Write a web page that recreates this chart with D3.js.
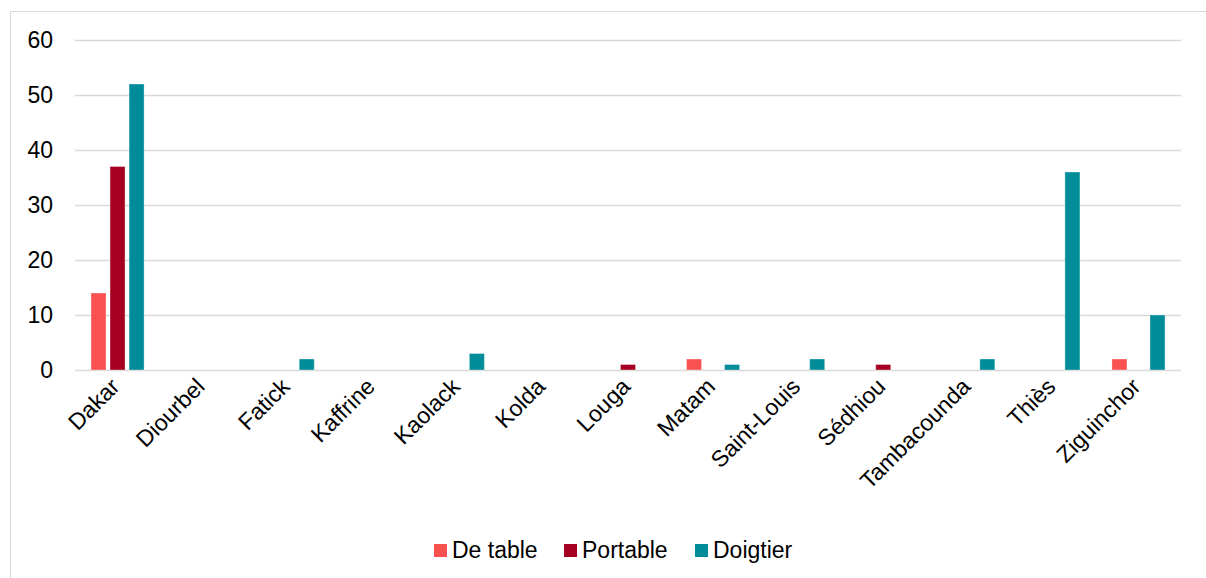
<!DOCTYPE html>
<html>
<head>
<meta charset="utf-8">
<script src="https://cdn.jsdelivr.net/npm/d3@7"></script>
<style>
  body { margin: 0; background: #fff; }
  text { font-family: "Liberation Sans", Arial, sans-serif; }
</style>
</head>
<body>
<div id="chart"></div>
<script>
// regions (x axis categories)
const regions = ["Dakar", "Diourbel", "Fatick", "Kaffrine", "Kaolack", "Kolda", "Louga",
  "Matam", "Saint-Louis", "Sédhiou", "Tambacounda", "Thiès", "Ziguinchor"];

// series values, one per region
const deTable  = [14, 0, 0, 0, 0, 0, 0, 2, 0, 0, 0, 0, 2];
const portable = [37, 0, 0, 0, 0, 0, 1, 0, 0, 1, 0, 0, 0];
const doigtier = [52, 0, 2, 0, 3, 0, 0, 1, 2, 0, 2, 36, 10];

const seriesNames = ["De table", "Portable", "Doigtier"];
const yTicks = [0, 10, 20, 30, 40, 50, 60];

const W = 1206, H = 578;
const margin = { left: 75, right: 25, top: 40, bottom: 208 };
const fontSize = 23;

const svg = d3.select("#chart").append("svg")
    .attr("width", W)
    .attr("height", H);

// outer chart frame (right/bottom edges run off the picture)
svg.append("rect")
    .attr("x", 10.5).attr("y", 11.5)
    .attr("width", W).attr("height", H)
    .attr("fill", "none")
    .attr("stroke", "#d9d9d9");

const color = d3.scaleOrdinal()
    .domain(seriesNames)
    .range(["#f8514f", "#a50021", "#008c99"]);

const x = d3.scaleBand()
    .domain(regions)
    .range([margin.left, W - margin.right]);

const y = d3.scaleLinear()
    .domain([0, 60])
    .range([H - margin.bottom, margin.top]);

// gridlines
svg.append("g")
    .selectAll("line")
    .data(yTicks)
    .join("line")
    .attr("x1", margin.left).attr("x2", W - margin.right)
    .attr("y1", d => y(d) + 0.5).attr("y2", d => y(d) + 0.5)
    .attr("stroke", "#d9d9d9")
    .attr("stroke-width", 1.5);

// y axis labels
svg.append("g")
    .selectAll("text")
    .data(yTicks)
    .join("text")
    .attr("x", 53)
    .attr("y", d => y(d))
    .attr("dy", "0.35em")
    .attr("text-anchor", "end")
    .attr("font-size", fontSize)
    .attr("fill", "#000")
    .text(d => d);

// bars
const rows = regions.map((r, i) => ({
  region: r,
  values: [deTable[i], portable[i], doigtier[i]]
}));

const x1 = d3.scaleBand()
    .domain(seriesNames)
    .range([0, x.bandwidth()])
    .paddingInner(0.21)
    .paddingOuter(0.84);

const groups = svg.append("g")
    .selectAll("g")
    .data(rows)
    .join("g")
    .attr("transform", d => "translate(" + x(d.region) + ",0)");

groups.selectAll("rect")
    .data(d => d.values.map((v, k) => ({ key: seriesNames[k], value: v })).filter(d => d.value > 0))
    .join("rect")
    .attr("x", d => x1(d.key))
    .attr("width", x1.bandwidth())
    .attr("y", d => y(d.value))
    .attr("height", d => y(0) - y(d.value))
    .attr("fill", d => color(d.key))
    .attr("stroke", "rgba(255,255,255,0.35)")
    .attr("stroke-width", 1);

// x axis labels, rotated
svg.append("g")
    .selectAll("text")
    .data(regions)
    .join("text")
    .attr("transform", d => "translate(" + (x(d) + x.bandwidth() / 2 + 3.5) + "," + (y(0) + 18) + ") rotate(-45)")
    .attr("text-anchor", "end")
    .attr("font-size", fontSize)
    .attr("fill", "#000")
    .text(d => d);

// legend
const legendX = [434, 564, 695];
const legend = svg.append("g")
    .selectAll("g")
    .data(seriesNames)
    .join("g")
    .attr("transform", (d, i) => "translate(" + legendX[i] + ",544)");

legend.append("rect")
    .attr("width", 13).attr("height", 13)
    .attr("fill", d => color(d));

legend.append("text")
    .attr("x", 18)
    .attr("y", 14)
    .attr("font-size", fontSize)
    .attr("fill", "#000")
    .text(d => d);
</script>
</body>
</html>
